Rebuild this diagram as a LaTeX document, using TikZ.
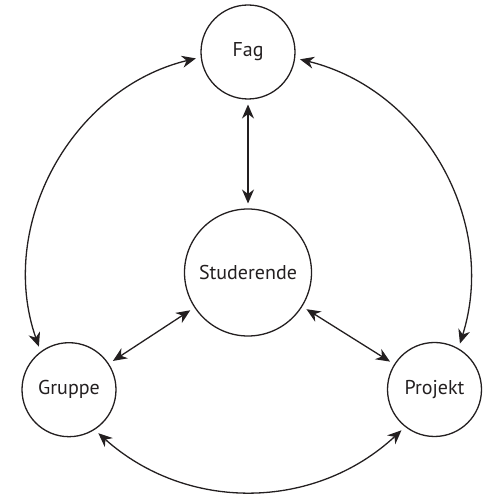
\documentclass[tikz,border=0pt]{standalone}
\usepackage{fontspec}
\setmainfont{PT Sans}
\usetikzlibrary{arrows.meta}
\definecolor{ink}{HTML}{231F20}
\begin{document}
\begin{tikzpicture}[x=1pt,y=1pt,
  bubble/.style={circle,draw=ink,line width=1.3pt,text=ink,font=\fontsize{20}{22}\selectfont,inner sep=0pt,outer sep=5.5pt},
  link/.style={draw=ink,line width=1.3pt,{Stealth[length=14pt,width=12pt,inset=4.5pt]}-{Stealth[length=14pt,width=12pt,inset=4.5pt]}}]
\useasboundingbox (0,0) rectangle (492,495);
\node[bubble,minimum size=94pt] (fag) at (248,443) {Fag};
\node[bubble,minimum size=127pt] (stud) at (248,222.5) {Studerende};
\node[bubble,minimum size=94pt] (gruppe) at (69,105.3) {Gruppe};
\node[bubble,minimum size=94pt] (projekt) at (434.5,105.5) {Projekt};
\draw[link] (fag) -- (stud);
\draw[link] (stud) -- (gruppe);
\draw[link] (stud) -- (projekt);
\draw[link] (gruppe.125) to[bend left=47.8] (fag.187);
\draw[link] (projekt.61) to[bend right=46.8] (fag.352);
\draw[link] (gruppe.304.5) to[bend right=42.3] (projekt.231.6);
\end{tikzpicture}
\end{document}
